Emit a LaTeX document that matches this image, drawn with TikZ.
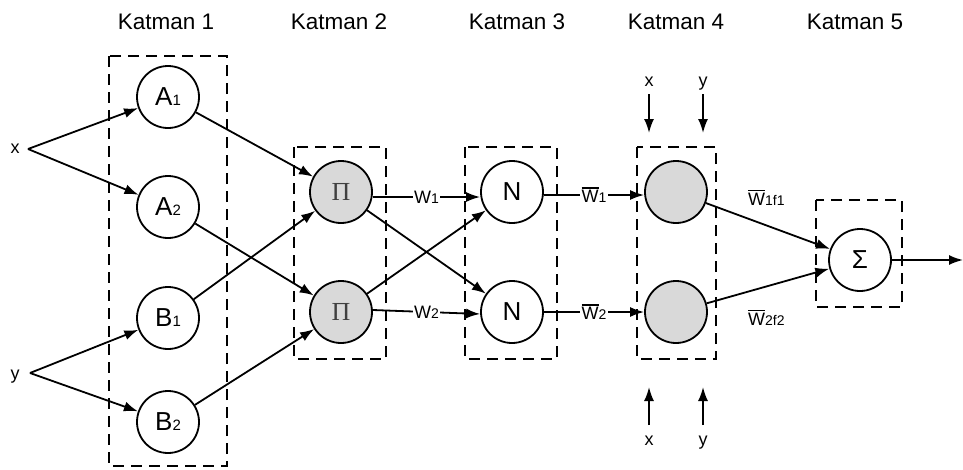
\documentclass[tikz,border=0pt]{standalone}
\usepackage{fontspec}
\setmainfont{Liberation Sans}
\newfontfamily\serifpi{Liberation Serif}
\usetikzlibrary{arrows.meta}
\newcommand\mysub[1]{{\fontsize{15}{15}\selectfont #1}}
\newcommand\mysmall[1]{{\fontsize{14}{14}\selectfont #1}}
\newcommand\myWbar{\leavevmode\hbox{\vbox{\hrule height 1.2pt\kern1.8pt\hbox{W}}}}
\begin{document}
\begin{tikzpicture}[x=1pt,y=-1pt,
 neuron/.style={circle,draw,line width=1.8pt,minimum size=62pt,inner sep=0pt,font=\fontsize{26}{26}\selectfont},
 grayn/.style={neuron,fill=black!15},
 layerbox/.style={draw,line width=2.3pt,dash pattern=on 11pt off 7pt},
 conn/.style={line width=1.8pt,-{Latex[length=14pt,width=10pt]}},
 ttl/.style={font=\fontsize{22.5}{22.5}\selectfont,anchor=base,inner sep=0pt},
 lbl/.style={font=\fontsize{18}{18}\selectfont,anchor=base,inner sep=0pt},
 wl/.style={fill=white,inner sep=1.5pt,font=\fontsize{18}{18}\selectfont}]
\useasboundingbox (0,0) rectangle (963,469);

% titles
\node[ttl] (k1) at (166,29) {Katman 1};
\node[ttl] (k2) at (339,29) {Katman 2};
\node[ttl] (k3) at (517,29) {Katman 3};
\node[ttl] (k4) at (676,29) {Katman 4};
\node[ttl] (k5) at (855,29) {Katman 5};

% layer boxes
\draw[layerbox] (109,56) rectangle (227,466);
\draw[layerbox] (294,147) rectangle (386,359);
\draw[layerbox] (465,147) rectangle (557,359);
\draw[layerbox] (637,147) rectangle (716,359);
\draw[layerbox] (816,200) rectangle (902,307);

% nodes
\node[neuron] (A1) at (168,97) {A\mysub{1}};
\node[neuron] (A2) at (168,207) {A\mysub{2}};
\node[neuron] (B1) at (168,318) {B\mysub{1}};
\node[neuron] (B2) at (168,422) {B\mysub{2}};
\node[grayn] (P1) at (341,192) {\serifpi\textcolor{black!75}{Π}};
\node[grayn] (P2) at (341,312) {\serifpi\textcolor{black!75}{Π}};
\node[neuron] (N1) at (512,192) {N};
\node[neuron] (N2) at (512,312) {N};
\node[grayn] (F1) at (676,192) {};
\node[grayn] (F2) at (676,312) {};
\node[neuron] (S) at (860,260) {Σ};

% inputs
\node[lbl] (xin) at (15,153) {x};
\node[lbl] (yin) at (15,379) {y};
\coordinate (x0) at (28,149);
\coordinate (y0) at (30,373);
\draw[conn] (x0) -- (A1);
\draw[conn] (x0) -- (A2);
\draw[conn] (y0) -- (B1);
\draw[conn] (y0) -- (B2);

% layer 1 -> 2
\draw[conn] (A1) -- (P1);
\draw[conn] (B1) -- (P1);
\draw[conn] (A2) -- (P2);
\draw[conn] (B2) -- (P2);

% layer 2 -> 3
\draw[conn] ([yshift=-5pt]P1.east) -- node[wl] (w1) {W\mysmall{1}} ([yshift=-5pt]N1.west);
\draw[conn] ([yshift=2pt]P2.east) -- node[wl] (w2) {W\mysmall{2}} ([yshift=-2pt]N2.west);
\draw[conn] (P1) -- (N2);
\draw[conn] (P2) -- (N1);

% layer 3 -> 4
\draw[conn] ([yshift=-3pt]N1.east) -- node[wl] (wb1) {\myWbar\mysmall{1}} ([yshift=-3pt]F1.west);
\draw[conn] (N2.east) -- node[wl] (wb2) {\myWbar\mysmall{2}} (F2.west);

% layer 4 extra inputs
\node[lbl] (x4t) at (649,86) {x};
\node[lbl] (y4t) at (703,86) {y};
\coordinate (x4te) at (649,133);
\coordinate (y4te) at (703,133);
\coordinate (x4ts) at (649,94);
\coordinate (y4ts) at (703,94);
\draw[conn] (x4ts) -- (x4te);
\draw[conn] (y4ts) -- (y4te);
\node[lbl] (x4b) at (649,445) {x};
\node[lbl] (y4b) at (703,445) {y};
\coordinate (x4bs) at (649,425);
\coordinate (y4bs) at (703,425);
\coordinate (x4be) at (649,387);
\coordinate (y4be) at (703,387);
\draw[conn] (x4bs) -- (x4be);
\draw[conn] (y4bs) -- (y4be);

% layer 4 -> 5
\draw[conn] (F1) -- (S);
\draw[conn] (F2) -- (S);
\node[lbl,anchor=base west] (wf1) at (748,205) {\myWbar\mysmall{1f1}};
\node[lbl,anchor=base west] (wf2) at (748,325) {\myWbar\mysmall{2f2}};

% output
\coordinate (out) at (963,260);
\draw[conn] (S) -- (out);
\end{tikzpicture}
\end{document}
